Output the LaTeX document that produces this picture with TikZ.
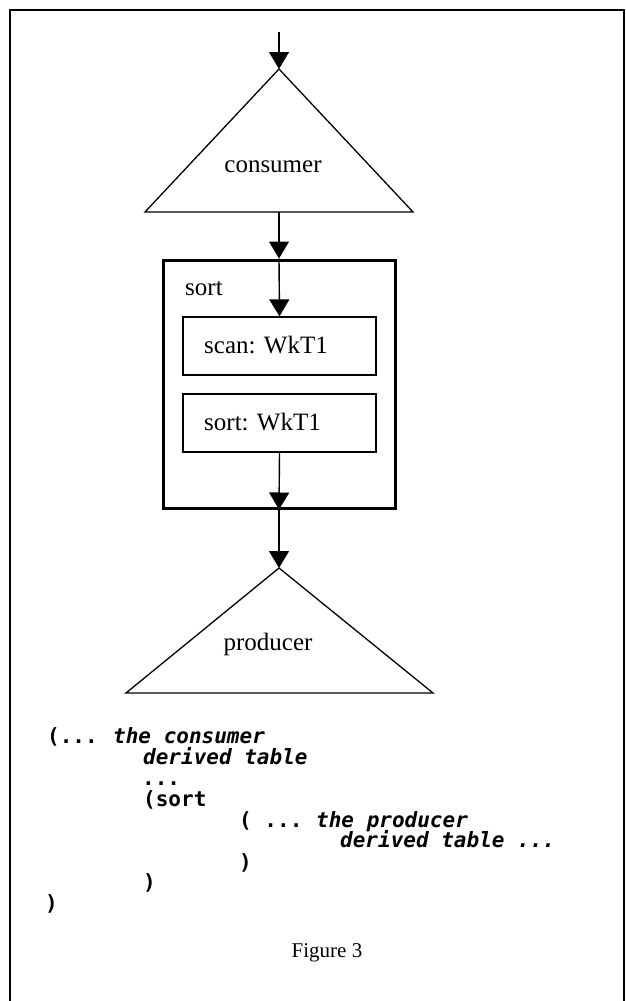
\documentclass[tikz,border=0pt]{standalone}
\usepackage{fontspec}
\setmainfont{Liberation Serif}
\newfontfamily\codefont{DejaVu Sans Mono}
\usetikzlibrary{arrows.meta}
\begin{document}
\begin{tikzpicture}[x=1pt,y=-1pt,
  arr/.style={line width=1.4pt,-{Triangle[length=17pt,width=20pt]}},
  tri/.style={line width=1.3pt,line join=miter},
  inbox/.style={draw,line width=1.3pt,rectangle,minimum width=193pt,minimum height=58pt,inner sep=0pt},
  serif/.style={inner sep=0pt,font=\fontsize{25}{30}\selectfont},
  code/.style={inner sep=0pt,anchor=base west,font=\codefont\bfseries\fontsize{21}{24}\selectfont},
  codeit/.style={code,font=\codefont\bfseries\itshape\fontsize{21}{24}\selectfont}]
\useasboundingbox (0,0) rectangle (626,1001);
% frame
\draw[line width=1.8pt] (10,1005) -- (10,10) -- (624,10) -- (624,1005);
% consumer triangle
\coordinate (ctop) at (279,32);
\coordinate (capex) at (279,69);
\coordinate (cbl) at (145,212);
\coordinate (cbr) at (413,212);
\coordinate (cbase) at (279,212);
\draw[tri] (capex) -- (cbr) -- (cbl) -- cycle;
\node[serif,anchor=base] (cons) at (273,172) {consumer};
% sort box
\node[draw,line width=3pt,rectangle,minimum width=232pt,minimum height=248pt,inner sep=0pt] (sortbox) at (279,384) {};
\node[serif,anchor=base west] (sortlbl) at (185,295) {sort};
\node[inbox] (scan) at (279.5,346) {};
\node[serif,anchor=base west] (scantxt) at (204,353) {scan: WkT1};
\node[inbox] (sortin) at (279.5,423) {};
\node[serif,anchor=base west] (sorttxt) at (204,430) {sort: WkT1};
% producer triangle
\coordinate (papex) at (279,568);
\coordinate (pbl) at (126,693);
\coordinate (pbr) at (433,693);
\draw[tri] (papex) -- (pbr) -- (pbl) -- cycle;
\node[serif,anchor=base] (prod) at (268,650) {producer};
% arrows
\draw[arr] (ctop) -- (capex);
\draw[arr] (cbase) -- (sortbox.north);
\draw[arr] (sortbox.north) -- (scan.north);
\draw[arr] (sortin.south) -- (sortbox.south);
\draw[arr] (sortbox.south) -- (papex);
% code
\node[code] (l1a) at (47,743) {(...};
\node[codeit] (l1b) at (113,743) {the consumer};
\node[codeit] (l2) at (143,764) {derived table};
\node[code] (l3) at (142,785) {...};
\node[code] (l4) at (143,806) {(sort};
\node[code] (l5a) at (239,827) {( ...};
\node[codeit] (l5b) at (316,827) {the producer};
\node[codeit] (l6) at (340,847) {derived table ...};
\node[code] (l7) at (239,869) {)};
\node[code] (l8) at (143,889) {)};
\node[code] (l9) at (45,910) {)};
% caption
\node[inner sep=0pt,anchor=base,font=\fontsize{21}{25}\selectfont] (cap) at (327,957) {Figure 3};
\end{tikzpicture}
\end{document}
